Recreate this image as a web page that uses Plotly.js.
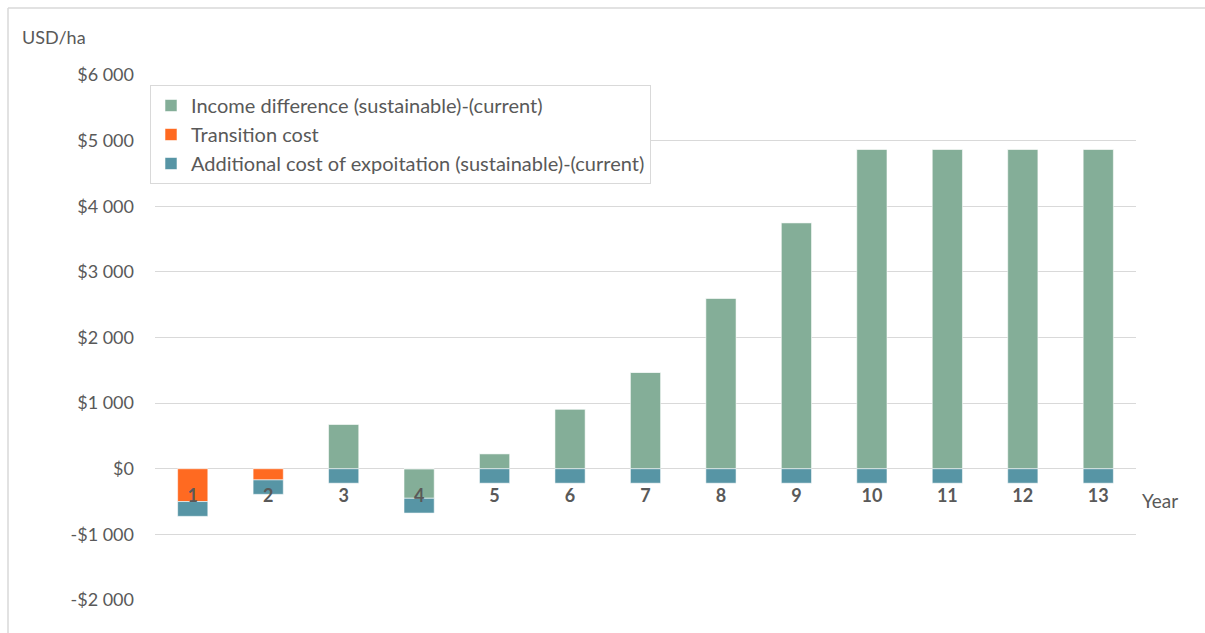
<!DOCTYPE html>
<html>
<head>
<meta charset="utf-8">
<script src="https://cdn.plot.ly/plotly-3.0.1.min.js"></script>
<style>html,body{margin:0;padding:0;background:#fff;}#chart{width:1205px;height:633px;}</style>
</head>
<body>
<div id="chart"></div>
<script>
// Data
const years = ["1","2","3","4","5","6","7","8","9","10","11","12","13"];
const incomeDifference = [0, 0, 680, -450, 230, 910, 1470, 2600, 3750, 4870, 4870, 4870, 4870];
const transitionCost = [-500, -170, 0, 0, 0, 0, 0, 0, 0, 0, 0, 0, 0];
const additionalCost = [-225, -220, -220, -225, -220, -220, -220, -220, -220, -220, -220, -220, -220];
const yTickVals = [-2000, -1000, 0, 1000, 2000, 3000, 4000, 5000, 6000];
const yTickText = ["-$2 000", "-$1 000", "$0", "$1 000", "$2 000", "$3 000", "$4 000", "$5 000", "$6 000"];
const seriesNames = ["Income difference (sustainable)-(current)", "Transition cost", "Additional cost of expoitation (sustainable)-(current)"];

const W = 1205, H = 633;
const M = {l: 155, r: 69, t: 75, b: 33};
const pw = W - M.l - M.r, ph = H - M.t - M.b;
const px = x => (x - M.l) / pw;
const py = y => (H - M.b - y) / ph;

const txt = '#595959';
const font = 'Lato, "Open Sans", sans-serif';
const edge = {color: 'rgba(255,255,255,0.55)', width: 1};

const traces = [
  {type: 'bar', name: seriesNames[0], x: years, y: incomeDifference, marker: {color: '#84AE98', line: edge}, legendgroup: 'a'},
  {type: 'bar', name: seriesNames[1], x: years, y: transitionCost, marker: {color: '#FF6A21', line: edge}, legendgroup: 'b'},
  {type: 'bar', name: seriesNames[2], x: years, y: additionalCost, marker: {color: '#5795A5', line: edge}, legendgroup: 'c'}
];

const layout = {
  width: W, height: H,
  margin: M,
  paper_bgcolor: '#fff', plot_bgcolor: '#fff',
  font: {family: font, color: txt, size: 16},
  barmode: 'relative',
  bargap: 0.6,
  showlegend: true,
  legend: {
    x: px(150), y: py(85), xanchor: 'left', yanchor: 'top',
    bordercolor: '#d9d9d9', borderwidth: 1, bgcolor: '#fff',
    font: {size: 20, color: txt, family: font},
    tracegroupgap: 11,
    traceorder: 'normal'
  },
  xaxis: {
    type: 'category',
    anchor: 'free', position: 0.25,
    showgrid: false, showline: false, zeroline: false,
    ticks: '', ticklabelstandoff: 14,
    tickfont: {size: 18, color: txt, family: font, weight: 'bold'},
    fixedrange: true
  },
  yaxis: {
    range: [-2000, 6000],
    tickvals: yTickVals, ticktext: yTickText,
    showgrid: true, gridcolor: '#d9d9d9', gridwidth: 1,
    zeroline: false, showline: false, ticks: '',
    ticklabelstandoff: 20,
    tickfont: {size: 18, color: txt, family: font}
  },
  annotations: [
    {xref: 'paper', yref: 'paper', x: px(20), y: py(37), xanchor: 'left', yanchor: 'middle', text: 'USD/ha', showarrow: false, font: {size: 18, color: txt, family: font}},
    {xref: 'paper', yref: 'paper', x: px(1140), y: py(500), xanchor: 'left', yanchor: 'middle', text: 'Year', showarrow: false, font: {size: 19, color: txt, family: font}}
  ],
  shapes: [
    {type: 'line', xref: 'paper', yref: 'paper', x0: px(8), x1: px(8), y0: py(8), y1: py(633), line: {color: '#d9d9d9', width: 1.5}},
    {type: 'line', xref: 'paper', yref: 'paper', x0: px(8), x1: px(1205), y0: py(8), y1: py(8), line: {color: '#d9d9d9', width: 1.5}}
  ]
};

Plotly.newPlot('chart', traces, layout, {displayModeBar: false, staticPlot: true});
</script>
</body>
</html>
